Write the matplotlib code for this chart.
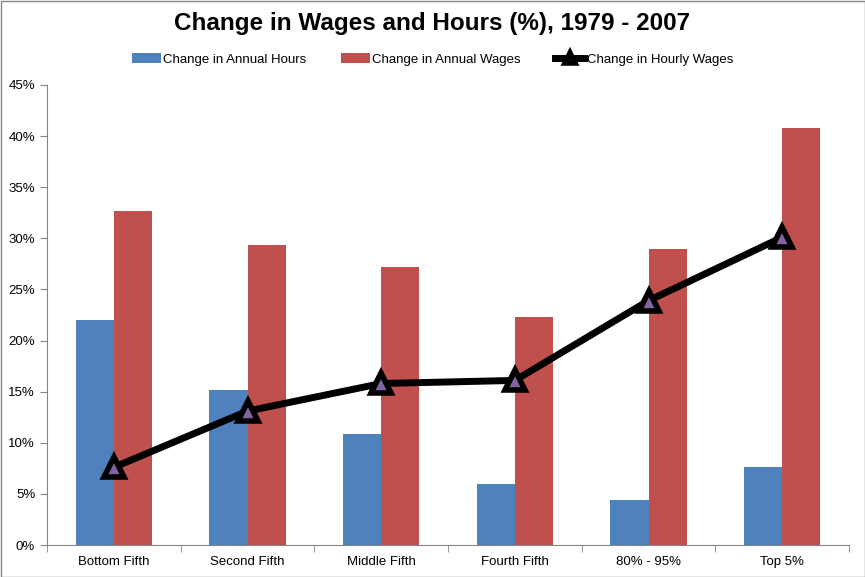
import numpy as np
import matplotlib.pyplot as plt
from matplotlib.patches import Rectangle
from matplotlib.ticker import FuncFormatter, MultipleLocator, FixedLocator

plt.rcParams['font.family'] = ['Liberation Sans', 'DejaVu Sans']

categories = ['Bottom Fifth', 'Second Fifth', 'Middle Fifth', 'Fourth Fifth', '80% - 95%', 'Top 5%']
annual_hours = [22.0, 15.2, 10.9, 6.0, 4.4, 7.6]
annual_wages = [32.7, 29.3, 27.2, 22.3, 29.0, 40.8]
hourly_wages = [7.6, 13.1, 15.8, 16.1, 23.9, 30.1]

BLUE = '#4F81BD'
RED = '#C0504D'
PURPLE = '#8064A2'
GRAY = '#868686'

fig = plt.figure(figsize=(8.65, 5.77), dpi=100)
ax = fig.add_axes([47 / 865, 32 / 577, 802 / 865, 460 / 577])

x = np.arange(len(categories))
w = 0.285
b1 = ax.bar(x - w / 2, annual_hours, width=w, color=BLUE, label='Change in Annual Hours', zorder=2)
b2 = ax.bar(x + w / 2, annual_wages, width=w, color=RED, label='Change in Annual Wages', zorder=2)
ln, = ax.plot(x, hourly_wages, color='black', lw=5, marker='^', markersize=15,
              markerfacecolor=PURPLE, markeredgecolor='black', markeredgewidth=4,
              label='Change in Hourly Wages', zorder=3)

ax.set_xlim(-0.5, len(categories) - 0.5)
ax.set_ylim(0, 45)
ax.yaxis.set_major_locator(MultipleLocator(5))
ax.yaxis.set_major_formatter(FuncFormatter(lambda v, p: f'{v:.0f}%'))
ax.set_xticks(x)
ax.set_xticklabels(categories)
ax.xaxis.set_minor_locator(FixedLocator(np.arange(-0.5, len(categories), 1.0)))
ax.tick_params(axis='x', which='major', length=0, pad=8, labelsize=9.5)
ax.tick_params(axis='x', which='minor', length=5, direction='out', color=GRAY)
ax.tick_params(axis='y', length=5, direction='out', color=GRAY, labelsize=9.5)

for s in ['top', 'right']:
    ax.spines[s].set_visible(False)
for s in ['left', 'bottom']:
    ax.spines[s].set_color(GRAY)

fig.text(0.5, 0.96, 'Change in Wages and Hours (%), 1979 - 2007', ha='center', va='center',
         fontsize=17.5, fontweight='bold')
fig.legend(handles=[b1, b2, ln], loc='center', bbox_to_anchor=(0.5, 0.897), ncol=3, frameon=False,
           fontsize=9.5, handlelength=2.2, handletextpad=0.2, columnspacing=2.6, markerscale=0.45)

fig.add_artist(Rectangle((0.5 / 865, 0.5 / 577), 1 - 1 / 865, 1 - 1 / 577, transform=fig.transFigure,
                         fill=False, edgecolor=GRAY, lw=1))

fig.savefig('out.png', dpi=100)
